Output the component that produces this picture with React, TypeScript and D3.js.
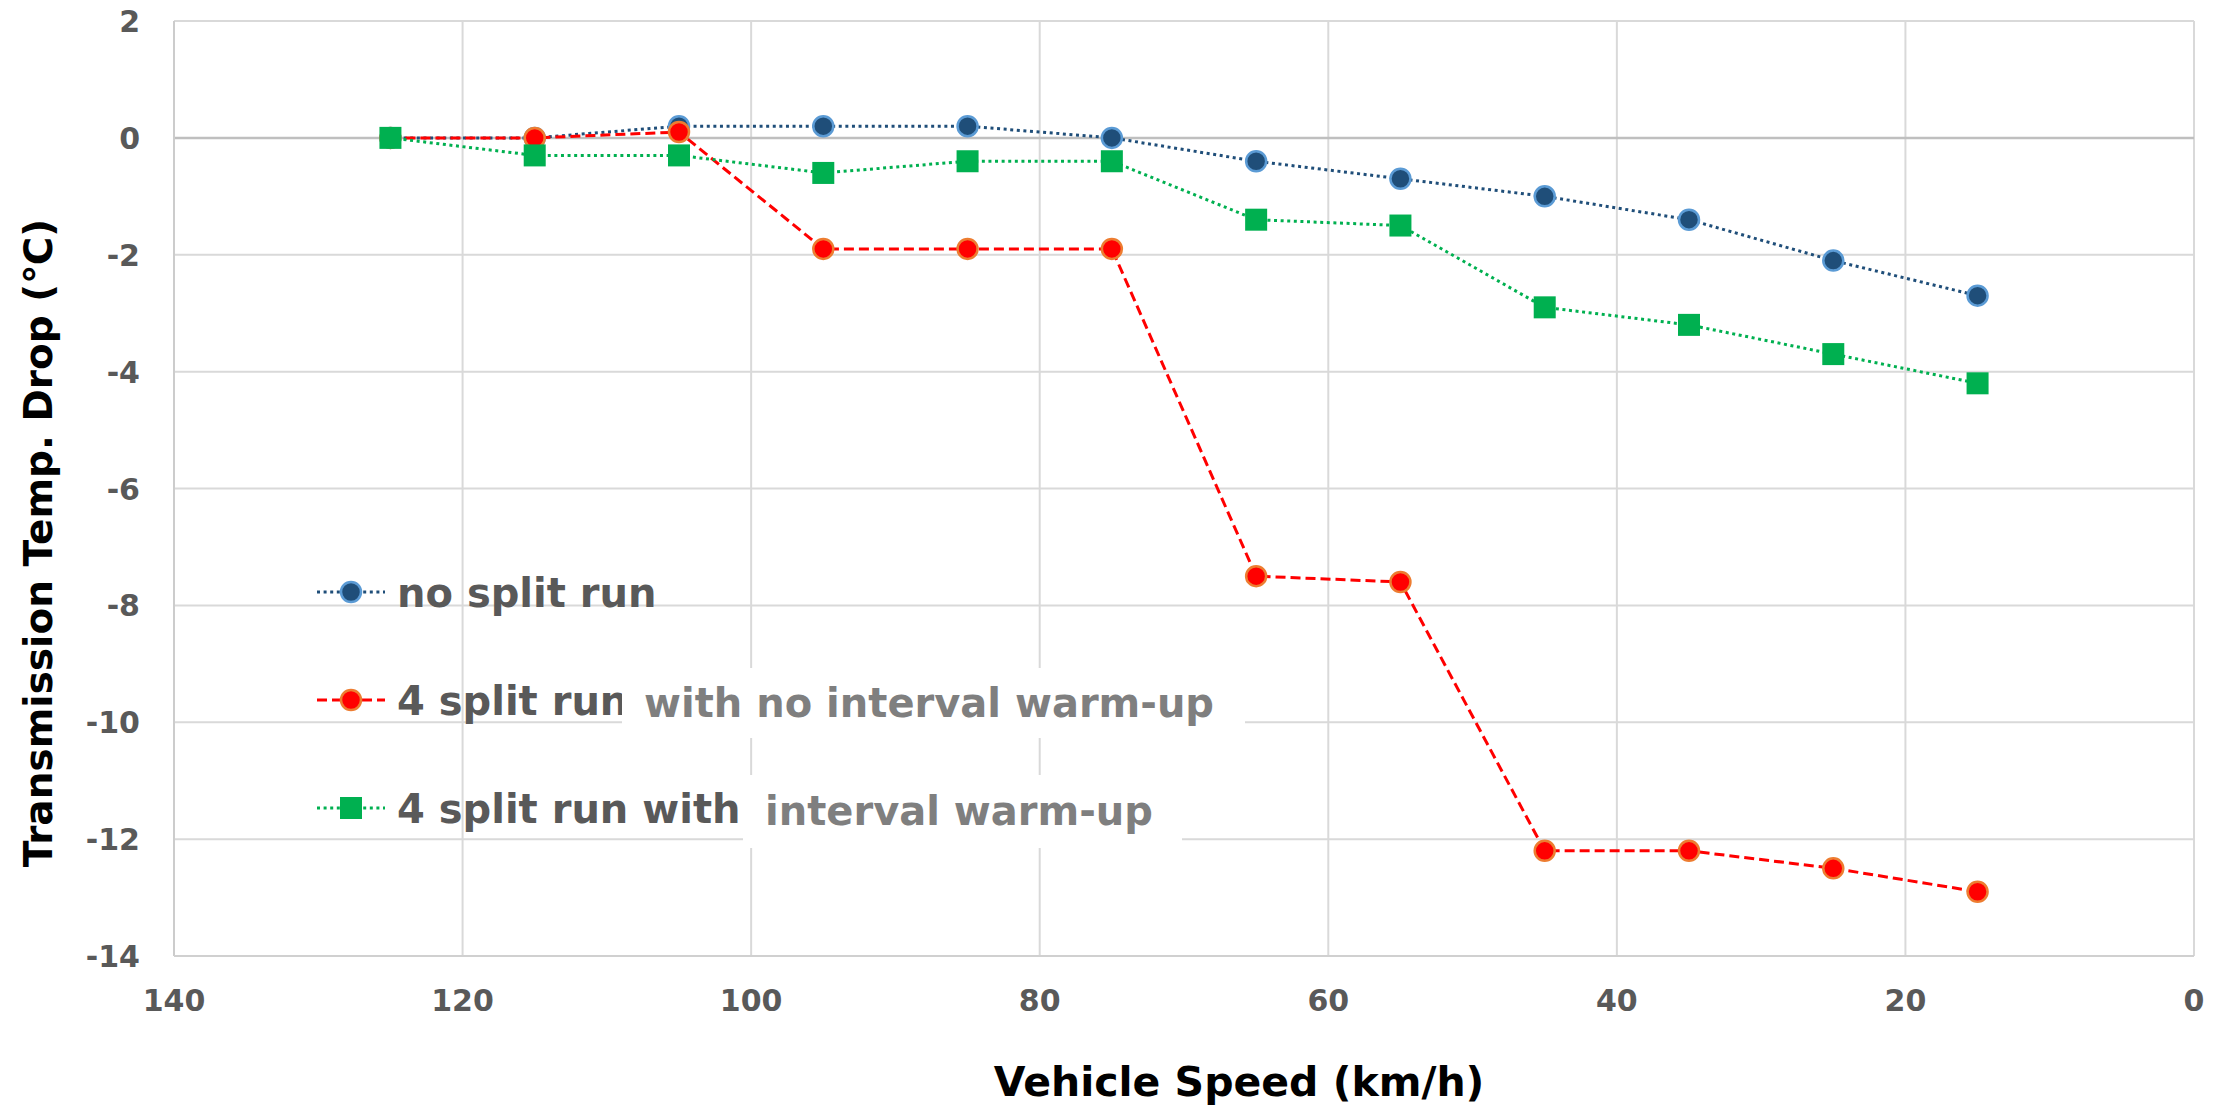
import React from "react";
import * as d3 from "d3";

const speeds = [125, 115, 105, 95, 85, 75, 65, 55, 45, 35, 25, 15];
const noSplit = [0, 0, 0.2, 0.2, 0.2, 0, -0.4, -0.7, -1.0, -1.4, -2.1, -2.7];
const splitNoWarm = [0, 0, 0.1, -1.9, -1.9, -1.9, -7.5, -7.6, -12.2, -12.2, -12.5, -12.9];
const splitWarm = [0, -0.3, -0.3, -0.6, -0.4, -0.4, -1.4, -1.5, -2.9, -3.2, -3.7, -4.2];
const xTicks = [140, 120, 100, 80, 60, 40, 20, 0];
const yTicks = [2, 0, -2, -4, -6, -8, -10, -12, -14];
const legendLabels = ["no split run", "4 split run", "4 split run with"];
const noteLabels = ["with no interval warm-up", "interval warm-up"];

const W = 2229;
const H = 1106;
const FONT = "'DejaVu Sans', Verdana, sans-serif";

export default function App() {
  const x = d3.scaleLinear().domain([140, 0]).range([174, 2194]);
  const y = d3.scaleLinear().domain([2, -14]).range([21, 956]);
  const line = d3
    .line<[number, number]>()
    .x((d) => x(d[0]))
    .y((d) => y(d[1]));

  const series = [
    { vals: noSplit, color: "#1f4e79", fill: "#1f4e79", stroke: "#5b9bd5", dash: "3 3.6", width: 3, marker: "circle" },
    { vals: splitNoWarm, color: "#ff0000", fill: "#ff0000", stroke: "#ed7d31", dash: "10 5", width: 3, marker: "circle" },
    { vals: splitWarm, color: "#00b050", fill: "#00b050", stroke: "#00b050", dash: "3 3.6", width: 3, marker: "square" },
  ];

  const drawMarker = (s: any, cx: number, cy: number, key: string) =>
    s.marker === "circle" ? (
      <circle key={key} cx={cx} cy={cy} r={10} fill={s.fill} stroke={s.stroke} strokeWidth={2.5} />
    ) : (
      <rect key={key} x={cx - 11} y={cy - 11} width={22} height={22} fill={s.fill} />
    );

  const legendY = [592, 700, 808];

  return (
    <div style={{ position: "absolute", left: 0, top: 0, width: W, height: H, background: "#fff" }}>
      <svg width={W} height={H} viewBox={`0 0 ${W} ${H}`} style={{ display: "block" }}>
        <rect x={0} y={0} width={W} height={H} fill="#fff" />
        {/* gridlines */}
        {xTicks.map((t) => (
          <line key={"gx" + t} x1={x(t)} x2={x(t)} y1={y(2)} y2={y(-14)} stroke="#d9d9d9" strokeWidth={2} />
        ))}
        {yTicks.map((t) => (
          <line
            key={"gy" + t}
            x1={x(140)}
            x2={x(0)}
            y1={y(t)}
            y2={y(t)}
            stroke={t === 0 ? "#bfbfbf" : "#d9d9d9"}
            strokeWidth={t === 0 ? 2.5 : 2}
          />
        ))}
        <line x1={x(140)} x2={x(140)} y1={y(2)} y2={y(-14)} stroke="#cccccc" strokeWidth={2} />
        <line x1={x(140)} x2={x(0)} y1={y(-14)} y2={y(-14)} stroke="#d0d0d0" strokeWidth={2} />

        {/* tick labels */}
        {yTicks.map((t) => (
          <text
            key={"ty" + t}
            x={140}
            y={y(t) + 11}
            textAnchor="end"
            fontFamily={FONT}
            fontWeight="bold"
            fontSize={30}
            fill="#595959"
          >
            {t}
          </text>
        ))}
        {xTicks.map((t) => (
          <text
            key={"tx" + t}
            x={x(t)}
            y={1011}
            textAnchor="middle"
            fontFamily={FONT}
            fontWeight="bold"
            fontSize={30}
            fill="#595959"
          >
            {t}
          </text>
        ))}

        {/* series */}
        {series.map((s, si) => {
          const pts: [number, number][] = speeds.map((sp, i) => [sp, s.vals[i]]);
          return (
            <g key={"s" + si}>
              <path d={line(pts) || ""} fill="none" stroke={s.color} strokeWidth={s.width} strokeDasharray={s.dash} />
              {pts.map((p, i) => drawMarker(s, x(p[0]), y(p[1]), "m" + si + "-" + i))}
            </g>
          );
        })}

        {/* legend */}
        {series.map((s, i) => (
          <g key={"lg" + i}>
            <line x1={317} x2={385} y1={legendY[i]} y2={legendY[i]} stroke={s.color} strokeWidth={3} strokeDasharray={s.dash} />
            {drawMarker(s, 351, legendY[i], "lm" + i)}
            <text x={397} y={legendY[i] + 15} fontFamily={FONT} fontWeight="bold" fontSize={40} fill="#595959">
              {legendLabels[i]}
            </text>
          </g>
        ))}

        {/* annotation boxes */}
        <rect x={622} y={668} width={623} height={70} fill="#fff" />
        <text x={644} y={717} fontFamily={FONT} fontWeight="bold" fontSize={40} fill="#7f7f7f">
          {noteLabels[0]}
        </text>
        <rect x={743} y={775} width={439} height={73} fill="#fff" />
        <text x={765} y={825} fontFamily={FONT} fontWeight="bold" fontSize={40} fill="#7f7f7f">
          {noteLabels[1]}
        </text>

        {/* axis titles */}
        <text x={1239} y={1096} textAnchor="middle" fontFamily={FONT} fontWeight="bold" fontSize={41} fill="#000">
          Vehicle Speed (km/h)
        </text>
        <text
          transform="translate(52,543) rotate(-90)"
          textAnchor="middle"
          fontFamily={FONT}
          fontWeight="bold"
          fontSize={39}
          fill="#000"
        >
          Transmission Temp. Drop (℃)
        </text>
      </svg>
    </div>
  );
}
